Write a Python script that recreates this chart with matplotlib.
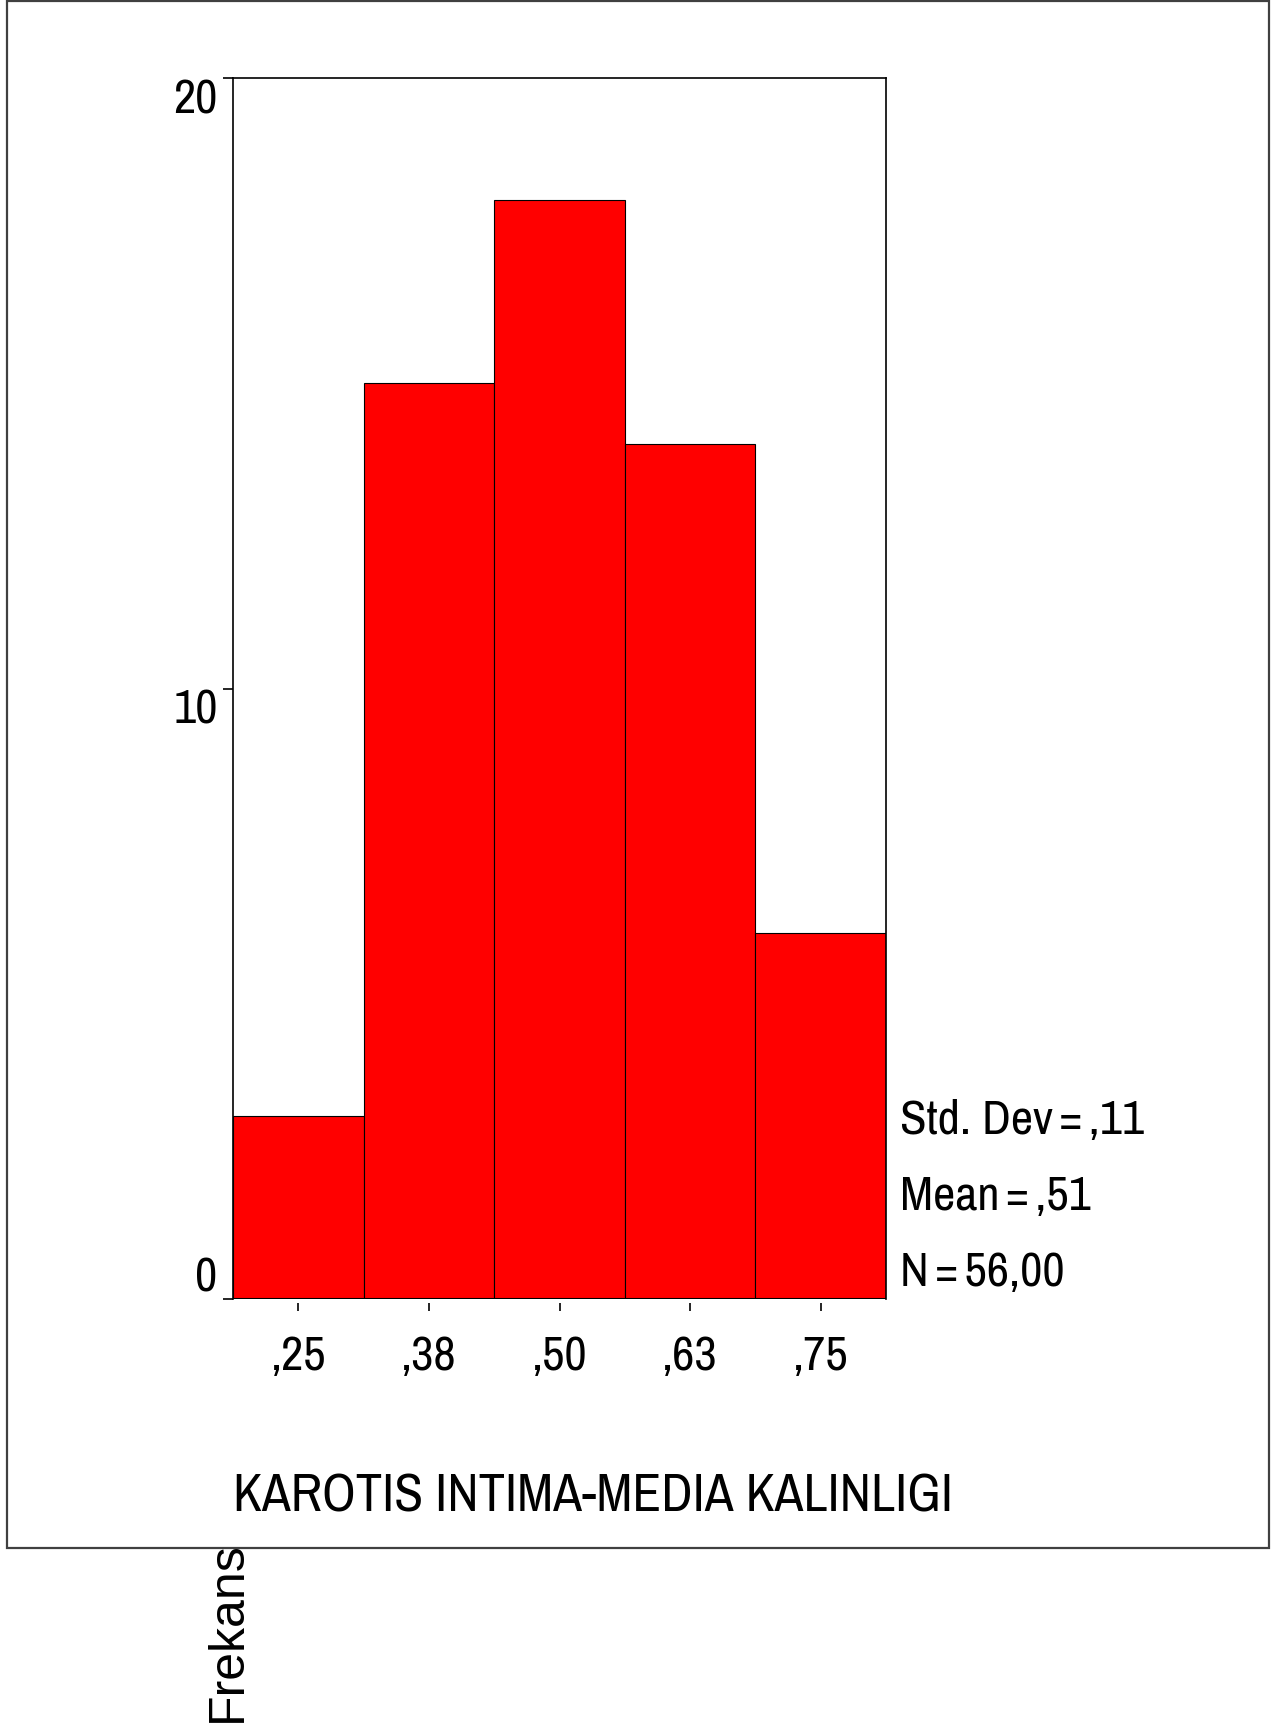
import numpy as np
import matplotlib
matplotlib.use("Agg")
import matplotlib.pyplot as plt
from matplotlib.patches import Rectangle

plt.rcParams['font.family'] = ['Archivo Narrow', 'Liberation Sans', 'DejaVu Sans']

# histogram data (bin centres and counts)
bin_centers = [0.25, 0.375, 0.50, 0.625, 0.75]
counts = [3, 15, 18, 14, 6]
tick_labels = [',25', ',38', ',50', ',63', ',75']
bin_width = 0.125
stats_lines = ['Std. Dev\u2009=\u2009,11', 'Mean\u2009=\u2009,51', 'N\u2009=\u200956,00']
x_title = 'KAROTIS INTIMA-MEDIA KALINLIGI'
y_title = 'Frekans'

W, H = 1281, 1725
FS = 35
fig = plt.figure(figsize=(W / 100, H / 100), dpi=100)

# outer frame
fig.patches.append(Rectangle((7 / W, 1 - 1548 / H), (1269 - 7) / W, (1548 - 1) / H,
                             transform=fig.transFigure, fill=False,
                             edgecolor='#404040', linewidth=1.6))

ax = fig.add_axes([233 / W, 1 - 1299 / H, (886 - 233) / W, (1299 - 78) / H])
ax.bar(bin_centers, counts, width=bin_width, color='#ff0000',
       edgecolor='black', linewidth=0.8, zorder=2)
ax.set_xlim(bin_centers[0] - bin_width / 2, bin_centers[-1] + bin_width / 2)
ax.set_ylim(0, 20)

for s in ax.spines.values():
    s.set_linewidth(1.2)
ax.spines['bottom'].set_position(('outward', 3))
ax.spines['bottom'].set_visible(False)
ax.axhline(0, color='black', linewidth=1.5, zorder=3)

ax.set_xticks(bin_centers)
ax.set_xticklabels(tick_labels)
ax.tick_params(axis='x', length=6, width=1.2, direction='out', pad=17, labelsize=FS)
ax.set_yticks([0, 10, 20])
ax.set_yticklabels(['0', '10', '20'])
ax.tick_params(axis='y', length=7, width=1.2, direction='out', pad=4, labelsize=FS)
for lab in ax.get_yticklabels():
    if lab.get_text() == '0':
        lab.set_va('bottom')
    else:
        lab.set_va('top')

# stats block
for txt, yc in zip(stats_lines, [1121, 1196, 1272]):
    fig.text(900 / W, 1 - yc / H, txt, fontsize=FS, ha='left', va='center')

fig.text(233 / W, 1 - 1497 / H, x_title, fontsize=FS + 3, ha='left', va='center')
fig.text(228 / W, 1 - 1722 / H, y_title, fontsize=36, rotation=90,
         family='Liberation Sans', ha='center', va='bottom')

fig.savefig('out.png', dpi=100)
